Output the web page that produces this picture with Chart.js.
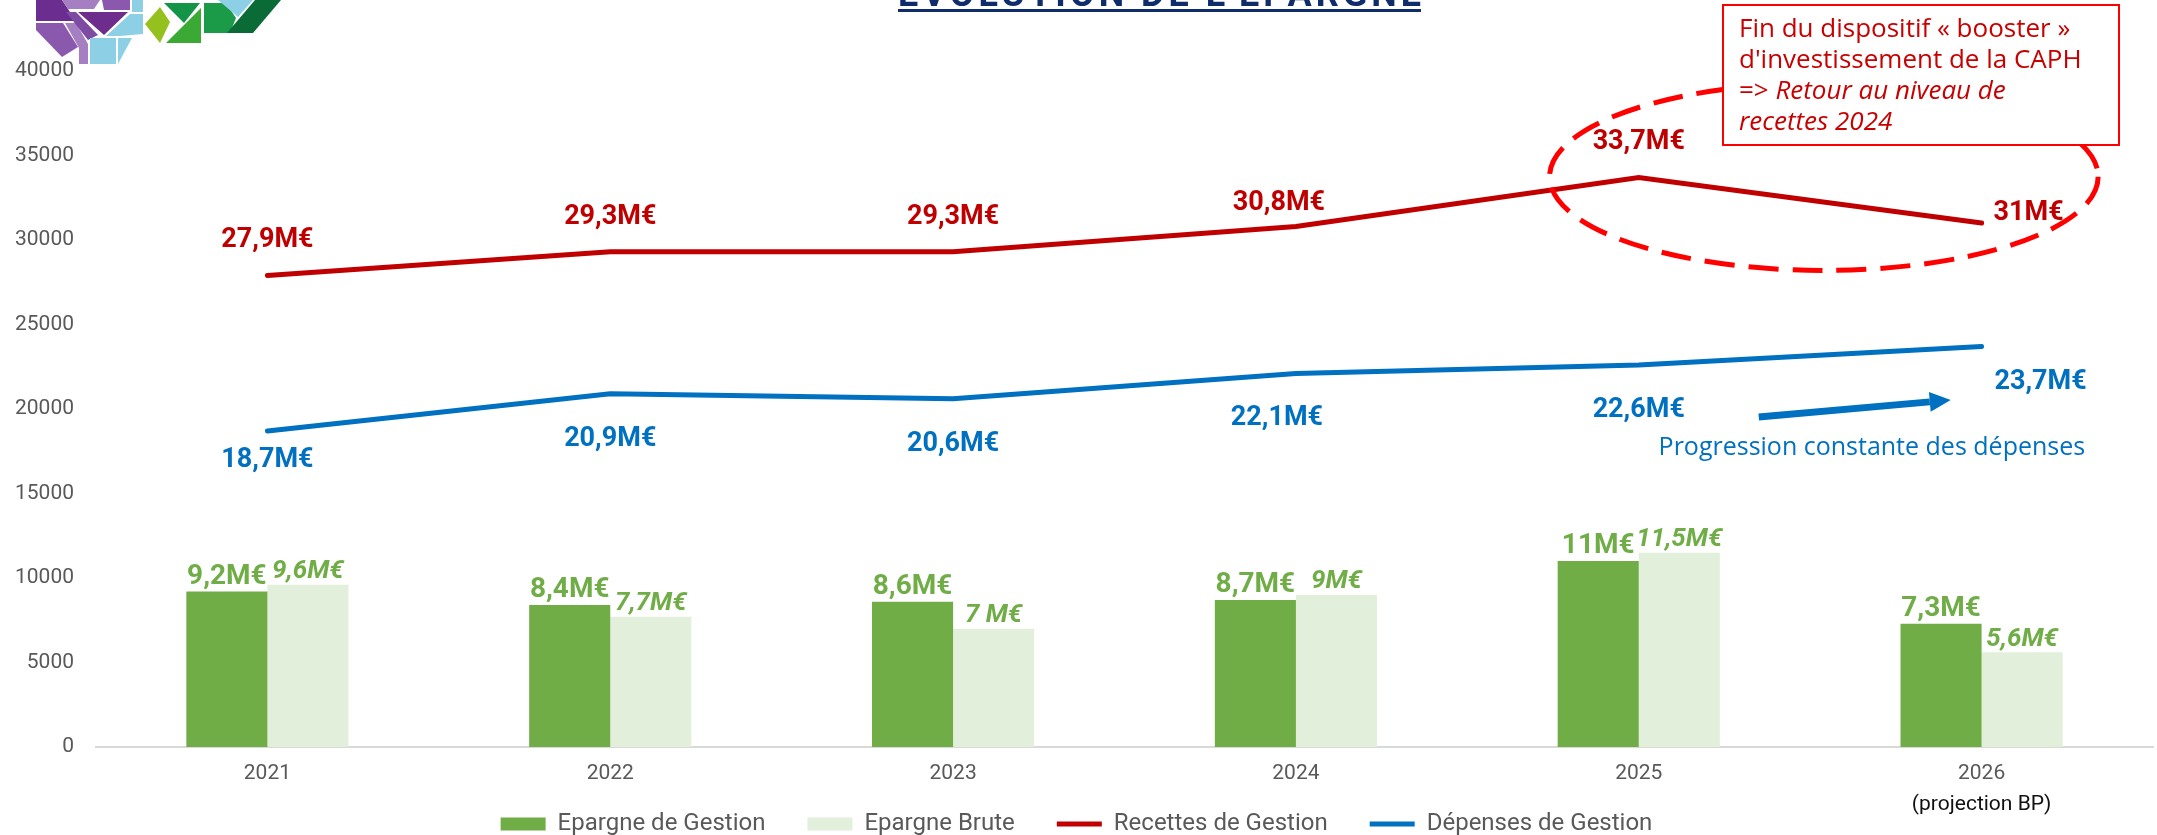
<!DOCTYPE html>
<html>
<head>
<meta charset="utf-8">
<script src="https://cdn.jsdelivr.net/npm/chart.js@4.4.1/dist/chart.umd.min.js"></script>
<style>
  html, body { margin: 0; padding: 0; background: #fff; overflow: hidden; }
  #wrap { position: relative; width: 2157px; height: 835px; }
  #logo { position: absolute; left: 0; top: 0; }
</style>
</head>
<body>
<div id="wrap">
  <canvas id="chart" width="2157" height="835"></canvas>
  <svg id="logo" width="300" height="70" viewBox="0 0 300 70">
    <polygon points="36,0 62,0 76,21 36,21" fill="#6b2d8f"/>
    <polygon points="62,0 100,0 94,9 68,9" fill="#a57fc2"/>
    <polygon points="78,12 128,12 104,35" fill="#6e2c8c"/>
    <polygon points="36,23 63,23 78,47 62,57 36,30" fill="#8a58ad"/>
    <polygon points="65,23 76,23 88,44 88,64 79,64 79,48" fill="#a57fc2"/>
    <polygon points="66,12 76,12 98,35 88,40" fill="#7e4ba2"/>
    <polygon points="90,38 116,38 116,64 90,64" fill="#8dd0e6"/>
    <polygon points="118,38 132,38 118,64" fill="#8dd0e6"/>
    <polygon points="106,36 130,14 143,14 143,34 120,36" fill="#8dd0e6"/>
    <polygon points="102,0 130,0 130,10 104,10" fill="#8a58ad"/>
    <polygon points="132,0 143,0 143,12 132,12" fill="#8dd0e6"/>
    <polygon points="145,24 160,7 170,22 160,43" fill="#95c11f"/>
    <polygon points="166,43 201,43 201,8" fill="#3aaa35"/>
    <polygon points="164,3 200,3 184,23" fill="#149447"/>
    <polygon points="204,3 226,3 236,18 230,33 204,33" fill="#1b9a48"/>
    <polygon points="218,0 253,0 238,17" fill="#8dd0e6"/>
    <polygon points="227,33 253,33 281,0 255,0" fill="#0b6b37"/>
  </svg>
</div>
<script>
// valeurs en milliers d'euros
const years = ["2021", "2022", "2023", "2024", "2025", "2026"];
const epargneGestion = [9200, 8400, 8600, 8700, 11000, 7300];
const epargneBrute = [9600, 7700, 7000, 9000, 11500, 5600];
const recettesGestion = [27900, 29300, 29300, 30800, 33700, 31000];
const depensesGestion = [18700, 20900, 20600, 22100, 22600, 23700];

const gestionLabels = ["9,2M€", "8,4M€", "8,6M€", "8,7M€", "11M€", "7,3M€"];
const bruteLabels = ["9,6M€", "7,7M€", "7 M€", "9M€", "11,5M€", "5,6M€"];
const recettesLabels = ["27,9M€", "29,3M€", "29,3M€", "30,8M€", "33,7M€", "31M€"];
const depensesLabels = ["18,7M€", "20,9M€", "20,6M€", "22,1M€", "22,6M€", "23,7M€"];

const TITLE = "ÉVOLUTION DE L'ÉPARGNE";
const LAST_TICK_NOTE = "(projection BP)";
const CALLOUT_LINES = [
  [{ t: "Fin du dispositif « booster »" }],
  [{ t: "d'investissement de la CAPH" }],
  [{ t: "=> " }, { t: "Retour au niveau de", italic: true }],
  [{ t: "recettes 2024", italic: true }],
];
const ARROW_NOTE = "Progression constante des dépenses";

const FONT = "Roboto, 'Noto Sans', sans-serif";
const NOTE_FONT = "'Open Sans', Roboto, sans-serif";
const GREY = "#595959";
const LEGEND_PAD = 42;

const valueLabelPlugin = {
  id: "valueLabels",
  afterDatasetsDraw(chart) {
    const { ctx } = chart;
    chart.data.datasets.forEach((ds, i) => {
      const meta = chart.getDatasetMeta(i);
      const lbl = ds.valueLabel;
      ctx.save();
      ctx.font = `${lbl.italic ? "italic " : ""}bold ${lbl.size}px ${FONT}`;
      ctx.fillStyle = lbl.color;
      ctx.textAlign = "center";
      ctx.textBaseline = "middle";
      meta.data.forEach((el, j) => {
        const last = j === meta.data.length - 1;
        let x = el.x + ((lbl.dxAt || {})[j] || 0);
        let y = el.y + ((lbl.dyAt || {})[j] ?? lbl.dy);
        if (last && lbl.lastDx !== undefined) {
          x = el.x + lbl.lastDx;
          y = el.y + lbl.lastDy;
        }
        ctx.fillText(lbl.texts[j], x, y);
      });
      ctx.restore();
    });
  },
};

const annotationPlugin = {
  id: "slideNotes",
  afterLayout(chart) {
    // rapproche la légende de l'axe (le padding sert aussi d'écart entre éléments)
    const lg = chart.legend;
    lg.top -= LEGEND_PAD - 13;
    lg.bottom -= LEGEND_PAD - 13;
  },
  afterDraw(chart) {
    const { ctx } = chart;
    const xs = chart.scales.x;
    const ys = chart.scales.y;

    // titre (coupé en haut de la diapo)
    ctx.save();
    ctx.font = `bold 36px ${FONT}`;
    ctx.fillStyle = "#0f2c6b";
    ctx.textBaseline = "alphabetic";
    const w = ctx.measureText(TITLE).width;
    const target = 523;
    ctx.letterSpacing = (target - w) / (TITLE.length - 1) + "px";
    ctx.fillText(TITLE, 898, 6);
    ctx.fillRect(898, 9, target, 3);
    ctx.restore();

    // ellipse pointillée autour de 2025-2026
    const left = xs.getPixelForValue(3.74);
    const right = xs.getPixelForValue(5.34);
    const top = ys.getPixelForValue(39300);
    const bottom = ys.getPixelForValue(28200);
    ctx.save();
    ctx.strokeStyle = "#ff0000";
    ctx.lineWidth = 5;
    ctx.setLineDash([30, 14]);
    ctx.beginPath();
    ctx.ellipse((left + right) / 2, (top + bottom) / 2, (right - left) / 2, (bottom - top) / 2, 0, 0, Math.PI * 2);
    ctx.stroke();
    ctx.restore();

    // encadré
    ctx.save();
    ctx.fillStyle = "#fff";
    ctx.fillRect(1723, 5, 396, 140);
    ctx.strokeStyle = "#ff0000";
    ctx.lineWidth = 2;
    ctx.strokeRect(1723, 5, 396, 140);
    ctx.fillStyle = "#c80000";
    ctx.textBaseline = "middle";
    CALLOUT_LINES.forEach((line, k) => {
      let x = 1739;
      const y = 30 + k * 30.7;
      line.forEach((part) => {
        ctx.font = `${part.italic ? "italic " : ""}26px ${NOTE_FONT}`;
        ctx.fillText(part.t, x, y);
        x += ctx.measureText(part.t).width;
      });
    });
    ctx.restore();

    // flèche bleue
    const ax0 = xs.getPixelForValue(4.35), ay0 = ys.getPixelForValue(19530);
    const ax1 = xs.getPixelForValue(4.91), ay1 = ys.getPixelForValue(20530);
    const ang = Math.atan2(ay1 - ay0, ax1 - ax0);
    const head = 21;
    ctx.save();
    ctx.strokeStyle = ctx.fillStyle = "#0070c0";
    ctx.lineWidth = 7;
    ctx.beginPath();
    ctx.moveTo(ax0, ay0);
    ctx.lineTo(ax1 - head * Math.cos(ang), ay1 - head * Math.sin(ang));
    ctx.stroke();
    ctx.beginPath();
    ctx.moveTo(ax1, ay1);
    ctx.lineTo(ax1 - head * Math.cos(ang) + 10 * Math.sin(ang), ay1 - head * Math.sin(ang) - 10 * Math.cos(ang));
    ctx.lineTo(ax1 - head * Math.cos(ang) - 10 * Math.sin(ang), ay1 - head * Math.sin(ang) + 10 * Math.cos(ang));
    ctx.closePath();
    ctx.fill();
    ctx.font = `25px ${NOTE_FONT}`;
    ctx.textAlign = "center";
    ctx.textBaseline = "middle";
    ctx.fillText(ARROW_NOTE, xs.getPixelForValue(4.68), ys.getPixelForValue(17680));
    ctx.restore();

    // seconde ligne sous 2026
    ctx.save();
    ctx.font = `21px ${FONT}`;
    ctx.fillStyle = "#111";
    ctx.textAlign = "center";
    ctx.textBaseline = "middle";
    ctx.fillText(LAST_TICK_NOTE, xs.getPixelForValue(5), 805);
    ctx.restore();
  },
};

new Chart(document.getElementById("chart"), {
  type: "bar",
  data: {
    labels: years,
    datasets: [
      {
        label: "Epargne de Gestion",
        data: epargneGestion,
        backgroundColor: "#70ad47",
        categoryPercentage: 0.473,
        barPercentage: 1,
        pointStyle: "rect",
        valueLabel: { texts: gestionLabels, color: "#70ad47", size: 28, dy: -15 },
      },
      {
        label: "Epargne Brute",
        data: epargneBrute,
        backgroundColor: "#e2efda",
        categoryPercentage: 0.473,
        barPercentage: 1,
        pointStyle: "rect",
        valueLabel: { texts: bruteLabels, color: "#70ad47", size: 26, italic: true, dy: -13 },
      },
      {
        type: "line",
        label: "Recettes de Gestion",
        data: recettesGestion,
        borderColor: "#c00000",
        backgroundColor: "#c00000",
        borderWidth: 5,
        borderCapStyle: "round",
        pointRadius: 0,
        pointStyle: "line",
        tension: 0,
        valueLabel: {
          texts: recettesLabels, color: "#c00000", size: 27, dy: -35,
          dyAt: { 3: -23 }, dxAt: { 3: -17 }, lastDx: 47, lastDy: -10,
        },
      },
      {
        type: "line",
        label: "Dépenses de Gestion",
        data: depensesGestion,
        borderColor: "#0070c0",
        backgroundColor: "#0070c0",
        borderWidth: 5,
        borderCapStyle: "round",
        pointRadius: 0,
        pointStyle: "line",
        tension: 0,
        valueLabel: {
          texts: depensesLabels, color: "#0070c0", size: 27, dy: 45,
          dyAt: { 0: 29 }, dxAt: { 3: -19 }, lastDx: 59, lastDy: 36,
        },
      },
    ],
  },
  options: {
    responsive: false,
    animation: false,
    events: [],
    layout: { padding: { top: 71, left: 0, right: 4, bottom: -(LEGEND_PAD - 2) } },
    plugins: {
      tooltip: { enabled: false },
      legend: {
        position: "bottom",
        labels: {
          usePointStyle: true,
          pointStyleWidth: 45,
          boxHeight: 13,
          padding: LEGEND_PAD,
          color: GREY,
          font: { family: FONT, size: 24 },
        },
      },
    },
    scales: {
      x: {
        grid: { display: false, drawTicks: false },
        border: { color: "#d9d9d9", width: 2 },
        ticks: { color: GREY, font: { family: FONT, size: 21 }, padding: 14 },
        afterFit: (s) => { s.height = 52; },
      },
      y: {
        min: 0,
        max: 40000,
        grid: { display: false, drawTicks: false },
        border: { display: false },
        ticks: {
          stepSize: 5000, color: GREY, font: { family: FONT, size: 21 }, padding: 22,
          callback: (v) => String(v),
        },
        afterFit: (s) => { s.width = 96; },
      },
    },
  },
  plugins: [valueLabelPlugin, annotationPlugin],
});
</script>
</body>
</html>
